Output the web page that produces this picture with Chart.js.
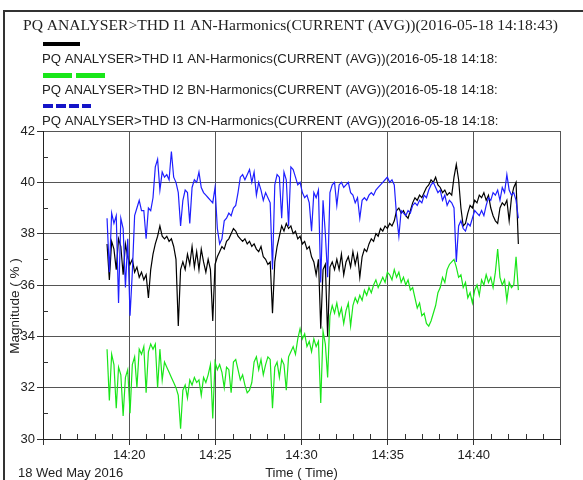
<!DOCTYPE html>
<html>
<head>
<meta charset="utf-8">
<title>THD Harmonics</title>
<script src="https://cdn.jsdelivr.net/npm/chart.js@4.4.1/dist/chart.umd.min.js"></script>
<style>
  html, body { margin: 0; padding: 0; background: #ffffff; }
  #wrap { position: relative; width: 583px; height: 480px; }
  canvas { display: block; }
</style>
</head>
<body>
<div id="wrap"><canvas id="chart" width="583" height="480"></canvas></div>
<script>
// Recording start and sampling interval of the exported trend
const START_TIME = '14:18:43';
const STEP_SECONDS = 8;

// Axis ticks (minutes since midnight) and their labels
const X_MIN = 855, X_MAX = 885, X_STEP = 5;
const Y_MIN = 30, Y_MAX = 42, Y_STEP = 2;

const CHART_TITLE = 'PQ ANALYSER>THD I1 AN-Harmonics(CURRENT (AVG))(2016-05-18 14:18:43)';
const SERIES_NAMES = [
  'PQ ANALYSER>THD I1 AN-Harmonics(CURRENT (AVG))(2016-05-18 14:18:',
  'PQ ANALYSER>THD I2 BN-Harmonics(CURRENT (AVG))(2016-05-18 14:18:',
  'PQ ANALYSER>THD I3 CN-Harmonics(CURRENT (AVG))(2016-05-18 14:18:'
];
const DATE_LABEL = '18 Wed May 2016';
const X_TITLE = 'Time ( Time)';
const Y_TITLE = 'Magnitude ( % )';

// THD I1 AN (%)
const thdI1 = [
  37.6,36.2,37.7,37.4,36.6,37.8,37.5,36.4,37.6,37.1,
  36.8,37.0,36.5,36.7,36.3,36.5,36.2,36.4,35.5,36.6,
  37.2,37.6,37.9,38.3,37.9,37.8,37.9,37.7,37.8,37.5,
  37.0,34.4,36.6,36.9,36.6,37.2,36.8,37.5,36.7,37.3,
  36.6,37.4,36.9,36.5,37.0,36.6,34.6,36.8,37.1,37.3,
  37.5,37.4,37.7,37.8,38.0,38.2,38.1,37.9,37.8,37.7,
  37.8,37.6,37.7,37.5,37.6,37.4,37.3,37.5,37.1,37.0,
  36.8,36.9,34.9,36.9,37.5,37.9,38.3,38.1,38.4,38.2,
  38.3,38.0,38.1,37.8,37.9,37.6,37.7,37.4,37.5,37.1,
  36.9,36.4,37.0,34.3,36.6,36.8,34.0,36.7,36.9,36.6,
  37.0,36.6,37.2,36.4,36.9,37.1,36.7,37.3,36.8,37.2,
  36.3,37.1,37.4,37.3,37.6,37.8,37.7,38.0,37.9,38.2,
  38.1,38.3,38.2,38.4,38.3,38.5,38.9,39.0,38.8,38.9,
  38.7,38.6,38.9,39.2,39.4,39.3,39.5,39.4,39.6,39.8,
  39.9,40.1,40.0,40.2,39.9,39.8,39.6,39.7,39.5,39.6,
  39.5,40.2,40.7,40.1,39.0,38.3,38.4,38.8,39.1,39.0,
  39.3,39.2,39.5,39.4,39.6,39.3,39.5,39.0,38.7,38.5,
  38.4,39.0,39.2,39.1,39.3,38.5,39.4,39.8,40.0,37.6
];

// THD I2 BN (%)
const thdI2 = [
  33.5,31.5,33.3,32.9,31.2,32.8,32.5,30.9,32.4,32.7,
  31.0,32.9,33.2,32.0,33.5,33.3,33.6,31.8,33.4,33.7,
  33.5,33.7,32.0,33.5,32.3,33.0,32.8,32.6,32.4,32.2,
  32.0,31.7,30.4,31.9,32.1,31.6,32.3,32.1,32.4,32.2,
  32.3,31.7,32.4,32.2,32.5,32.9,30.8,33.0,32.7,32.9,
  32.6,32.0,32.8,32.7,31.8,33.0,33.1,32.7,32.3,32.5,
  32.1,31.8,31.9,32.2,33.0,33.2,32.7,33.1,32.5,32.9,
  33.2,33.1,31.2,32.8,33.0,32.4,33.1,32.9,31.9,33.2,
  33.4,33.6,33.3,33.9,34.3,33.9,34.1,33.6,33.8,33.4,
  33.9,33.6,33.8,31.4,34.2,33.7,32.4,34.8,35.2,34.9,
  35.3,34.8,35.1,34.5,35.0,35.3,34.4,35.2,35.5,35.3,
  35.6,35.4,35.8,35.6,35.9,35.7,36.0,36.2,35.9,36.1,
  36.3,36.1,36.5,36.4,36.2,36.6,36.3,36.5,36.1,36.3,
  36.0,36.2,35.8,35.9,35.5,35.1,35.3,34.8,34.9,34.5,
  34.4,34.6,34.9,35.2,35.7,35.9,36.3,36.1,36.6,36.8,
  36.9,37.0,36.7,36.3,36.4,35.9,36.1,35.5,35.7,35.3,
  35.8,36.0,35.6,36.2,36.0,36.4,36.1,36.3,35.9,36.5,
  37.4,36.3,36.0,36.2,35.4,36.1,35.9,36.0,37.1,35.8
];

// THD I3 CN (%)
const thdI3 = [
  38.6,36.5,38.8,38.4,38.7,35.3,38.6,38.2,35.9,37.8,
  34.8,36.5,38.7,39.0,39.3,38.9,38.9,37.8,39.0,38.9,
  39.4,40.6,40.9,39.7,40.4,40.2,40.3,40.1,41.2,40.2,
  40.0,39.6,38.3,39.3,39.7,39.6,38.4,39.8,40.1,40.0,
  40.4,39.8,39.6,39.5,39.4,39.3,39.2,39.8,38.2,37.6,
  37.8,38.5,38.6,38.8,38.7,39.0,39.1,39.6,40.2,40.3,
  40.1,40.3,40.5,40.0,40.4,39.5,40.0,39.7,39.3,39.6,
  39.4,39.2,36.6,39.9,40.3,40.2,38.6,40.4,40.1,38.3,
  40.6,40.5,40.2,39.9,40.0,39.6,39.4,39.5,39.2,38.1,
  39.6,39.4,39.7,36.1,39.3,38.0,36.3,39.6,39.9,40.0,
  39.1,39.9,40.0,39.8,39.9,40.0,39.6,39.5,39.2,39.4,
  38.6,39.3,39.4,39.3,39.5,39.6,39.5,39.7,39.8,39.9,
  40.0,40.1,40.2,40.0,40.1,39.9,38.7,37.9,38.9,38.8,
  38.7,38.9,38.8,39.1,39.2,39.1,39.3,39.2,39.5,39.4,
  39.7,39.9,40.0,39.8,39.6,39.7,39.3,39.5,39.1,39.3,
  39.2,39.0,36.9,38.3,38.5,38.2,38.1,38.4,38.3,38.6,
  38.9,38.8,38.7,38.9,38.7,39.1,39.4,39.3,39.6,39.5,
  39.7,39.3,39.8,39.6,40.3,39.7,39.5,39.6,39.3,38.6
];

// Sample timestamps in minutes since midnight
function toMinutes(hms) {
  const p = hms.split(':').map(Number);
  return p[0] * 60 + p[1] + p[2] / 60;
}
const t0 = toMinutes(START_TIME);
const sampleTimes = thdI1.map((_, i) => t0 + i * STEP_SECONDS / 60);

function pairs(values) {
  return values.map((v, i) => ({ x: sampleTimes[i], y: v }));
}

function fmtClock(m) {
  const h = Math.floor(m / 60);
  const mm = Math.round(m - h * 60);
  return h + ':' + String(mm).padStart(2, '0');
}

const SANS = '"Liberation Sans", Arial, sans-serif';
const SERIF = '"Liberation Serif", "Times New Roman", serif';
const TEXT_COLOR = '#222222';
const COLORS = { i1: '#000000', i2: '#19e619', i3: '#1f1fff' };

// Frame, heading, stacked legend, minor ticks and axis captions
const decorations = {
  id: 'decorations',
  afterDraw(chart) {
    const ctx = chart.ctx;
    const area = chart.chartArea;
    const xs = chart.scales.x, ys = chart.scales.y;
    ctx.save();

    // window frame
    ctx.fillStyle = '#333333';
    ctx.fillRect(3, 10, 580, 2);
    ctx.fillRect(3, 10, 2, 470);

    // heading
    ctx.fillStyle = TEXT_COLOR;
    ctx.font = '15.6px ' + SERIF;
    ctx.textBaseline = 'alphabetic';
    ctx.textAlign = 'left';
    ctx.fillText(CHART_TITLE, 23, 30);

    // legend: swatch above each caption
    ctx.lineCap = 'butt';
    ctx.lineWidth = 4;
    ctx.strokeStyle = COLORS.i1;
    ctx.setLineDash([]);
    ctx.beginPath(); ctx.moveTo(43, 44); ctx.lineTo(80, 44); ctx.stroke();

    ctx.strokeStyle = COLORS.i2;
    ctx.lineWidth = 5;
    ctx.setLineDash([29, 4]);
    ctx.beginPath(); ctx.moveTo(43, 75.5); ctx.lineTo(106, 75.5); ctx.stroke();

    ctx.strokeStyle = '#1414c8';
    ctx.lineWidth = 4;
    ctx.setLineDash([10, 3]);
    ctx.beginPath(); ctx.moveTo(43, 106); ctx.lineTo(91, 106); ctx.stroke();
    ctx.setLineDash([]);

    ctx.fillStyle = TEXT_COLOR;
    ctx.font = '13.2px ' + SANS;
    ctx.textBaseline = 'middle';
    ctx.fillText(SERIES_NAMES[0], 42, 59);
    ctx.fillText(SERIES_NAMES[1], 42, 90);
    ctx.fillText(SERIES_NAMES[2], 42, 121);

    // minor ticks: every minute on x, every odd percent on y
    ctx.strokeStyle = '#333333';
    ctx.lineWidth = 1;
    ctx.beginPath();
    for (let m = X_MIN + 1; m < X_MAX; m++) {
      if ((m - X_MIN) % X_STEP === 0) continue;
      const px = Math.round(xs.getPixelForValue(m)) + 0.5;
      ctx.moveTo(px, area.bottom);
      ctx.lineTo(px, area.bottom - 5);
    }
    for (let v = Y_MIN + 1; v < Y_MAX; v += 2) {
      const py = Math.round(ys.getPixelForValue(v)) + 0.5;
      ctx.moveTo(area.left, py);
      ctx.lineTo(area.left + 5, py);
    }
    ctx.stroke();

    // captions
    ctx.fillStyle = TEXT_COLOR;
    ctx.font = '13px ' + SANS;
    ctx.textBaseline = 'alphabetic';
    ctx.textAlign = 'left';
    ctx.fillText(DATE_LABEL, 18, 477);
    ctx.textAlign = 'center';
    ctx.fillText(X_TITLE, (area.left + area.right) / 2, 477);

    ctx.font = '13.5px ' + SANS;
    ctx.translate(15, 306);
    ctx.rotate(-Math.PI / 2);
    ctx.textBaseline = 'middle';
    ctx.fillText(Y_TITLE, 0, 0);
    ctx.restore();
  }
};

const lineStyle = { borderWidth: 1.2, pointRadius: 0, tension: 0, fill: false };

new Chart(document.getElementById('chart'), {
  type: 'line',
  data: {
    datasets: [
      Object.assign({ label: SERIES_NAMES[0], data: pairs(thdI1), borderColor: COLORS.i1, order: 2 }, lineStyle),
      Object.assign({ label: SERIES_NAMES[1], data: pairs(thdI2), borderColor: COLORS.i2, order: 1 }, lineStyle),
      Object.assign({ label: SERIES_NAMES[2], data: pairs(thdI3), borderColor: COLORS.i3, order: 0 }, lineStyle)
    ]
  },
  options: {
    responsive: false,
    animation: false,
    devicePixelRatio: 1,
    layout: { padding: { left: 0, top: 131, right: 23, bottom: 0 } },
    plugins: {
      legend: { display: false },
      title: { display: false },
      tooltip: { enabled: false }
    },
    scales: {
      x: {
        type: 'linear',
        min: X_MIN, max: X_MAX,
        afterFit(s) { s.height = 41; },
        ticks: {
          stepSize: X_STEP,
          autoSkip: false,
          maxRotation: 0,
          padding: 3,
          color: TEXT_COLOR,
          font: { family: SANS, size: 13 },
          callback: v => (v === X_MIN || v === X_MAX) ? '' : fmtClock(v)
        },
        grid: { color: '#555555', lineWidth: 1, tickLength: 6, tickColor: '#333333' },
        border: { color: '#222222', width: 1 }
      },
      y: {
        min: Y_MIN, max: Y_MAX,
        afterFit(s) { s.width = 43; },
        ticks: {
          stepSize: Y_STEP,
          padding: 2,
          color: TEXT_COLOR,
          font: { family: SANS, size: 13 }
        },
        grid: { color: '#555555', lineWidth: 1, tickLength: 6, tickColor: '#333333' },
        border: { color: '#222222', width: 1 }
      }
    }
  },
  plugins: [decorations]
});
</script>
</body>
</html>
